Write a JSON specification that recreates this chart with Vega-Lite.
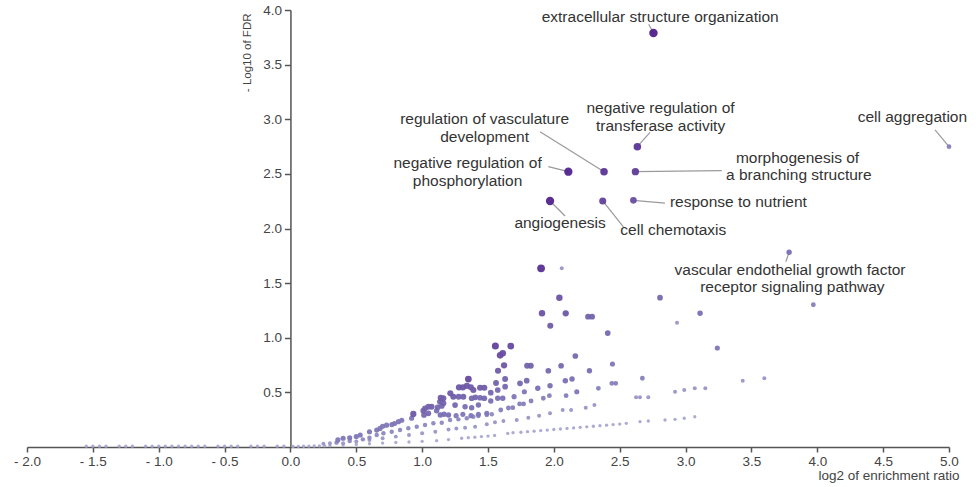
{
  "$schema": "https://vega.github.io/schema/vega-lite/v6.json",
  "width": 922,
  "height": 437,
  "autosize": "none",
  "padding": {"left": 27, "top": 10, "right": 27, "bottom": 40},
  "background": "white",
  "config": {"view": {"stroke": null}},
  "datasets": {
    "terms": [
      {"x": -1.55, "y": 0.008, "k": 2}, {"x": -1.5, "y": 0.008, "k": 2}, {"x": -1.45, "y": 0.008, "k": 2}, {"x": -1.4, "y": 0.008, "k": 2},
      {"x": -1.3, "y": 0.008, "k": 2}, {"x": -1.25, "y": 0.008, "k": 2}, {"x": -1.2, "y": 0.008, "k": 2}, {"x": -1.1, "y": 0.008, "k": 2},
      {"x": -1.05, "y": 0.008, "k": 2}, {"x": -1.0, "y": 0.008, "k": 2}, {"x": -0.95, "y": 0.008, "k": 2}, {"x": -0.9, "y": 0.008, "k": 2},
      {"x": -0.85, "y": 0.008, "k": 2}, {"x": -0.8, "y": 0.008, "k": 2}, {"x": -0.75, "y": 0.008, "k": 2}, {"x": -0.7, "y": 0.008, "k": 2},
      {"x": -0.65, "y": 0.008, "k": 2}, {"x": -0.55, "y": 0.008, "k": 2}, {"x": -0.5, "y": 0.008, "k": 2}, {"x": -0.45, "y": 0.008, "k": 2},
      {"x": -0.4, "y": 0.008, "k": 2}, {"x": -0.3, "y": 0.008, "k": 2}, {"x": -0.25, "y": 0.008, "k": 2}, {"x": -0.2, "y": 0.008, "k": 2},
      {"x": -0.1, "y": 0.008, "k": 2}, {"x": -0.05, "y": 0.008, "k": 2},
      {"x": 0.02, "y": 0.005, "k": 2}, {"x": 0.06, "y": 0.006, "k": 2}, {"x": 0.1, "y": 0.007, "k": 2}, {"x": 0.14, "y": 0.008, "k": 2},
      {"x": 0.18, "y": 0.009, "k": 2}, {"x": 0.22, "y": 0.01, "k": 2}, {"x": 0.26, "y": 0.011, "k": 2}, {"x": 0.25, "y": 0.03, "k": 3},
      {"x": 0.3, "y": 0.012, "k": 2}, {"x": 0.4, "y": 0.018, "k": 2}, {"x": 0.5, "y": 0.024, "k": 2}, {"x": 0.6, "y": 0.03, "k": 2},
      {"x": 0.7, "y": 0.036, "k": 2}, {"x": 0.8, "y": 0.042, "k": 2}, {"x": 0.9, "y": 0.046, "k": 2}, {"x": 1.0, "y": 0.052, "k": 2},
      {"x": 1.11, "y": 0.058, "k": 2}, {"x": 1.2, "y": 0.068, "k": 2}, {"x": 1.3, "y": 0.08, "k": 2}, {"x": 1.35, "y": 0.085, "k": 2},
      {"x": 1.4, "y": 0.09, "k": 2}, {"x": 1.45, "y": 0.095, "k": 2}, {"x": 1.5, "y": 0.1, "k": 2}, {"x": 1.55, "y": 0.106, "k": 2},
      {"x": 1.65, "y": 0.124, "k": 2}, {"x": 1.69, "y": 0.131, "k": 2}, {"x": 1.75, "y": 0.135, "k": 2}, {"x": 1.8, "y": 0.14, "k": 2},
      {"x": 1.85, "y": 0.145, "k": 2}, {"x": 1.9, "y": 0.15, "k": 2}, {"x": 1.95, "y": 0.155, "k": 2}, {"x": 2.0, "y": 0.16, "k": 2},
      {"x": 2.05, "y": 0.165, "k": 2}, {"x": 2.1, "y": 0.17, "k": 2}, {"x": 2.15, "y": 0.175, "k": 2}, {"x": 2.2, "y": 0.18, "k": 2},
      {"x": 2.25, "y": 0.185, "k": 2}, {"x": 2.3, "y": 0.19, "k": 2}, {"x": 2.35, "y": 0.195, "k": 2}, {"x": 2.4, "y": 0.2, "k": 2},
      {"x": 2.45, "y": 0.205, "k": 2}, {"x": 2.5, "y": 0.21, "k": 2}, {"x": 2.55, "y": 0.217, "k": 2}, {"x": 2.654, "y": 0.232, "k": 2},
      {"x": 2.717, "y": 0.238, "k": 2}, {"x": 2.844, "y": 0.247, "k": 2}, {"x": 2.92, "y": 0.253, "k": 2}, {"x": 2.99, "y": 0.263, "k": 2},
      {"x": 3.07, "y": 0.277, "k": 2},
      {"x": 0.3, "y": 0.035, "k": 3}, {"x": 0.4, "y": 0.035, "k": 3}, {"x": 0.5, "y": 0.05, "k": 3}, {"x": 0.6, "y": 0.065, "k": 3},
      {"x": 0.7, "y": 0.08, "k": 3}, {"x": 0.8, "y": 0.095, "k": 3}, {"x": 0.9, "y": 0.11, "k": 3}, {"x": 1.0, "y": 0.125, "k": 3},
      {"x": 1.1, "y": 0.14, "k": 3}, {"x": 1.2, "y": 0.16, "k": 3}, {"x": 1.26, "y": 0.17, "k": 3}, {"x": 1.326, "y": 0.177, "k": 3},
      {"x": 1.402, "y": 0.186, "k": 3}, {"x": 1.491, "y": 0.208, "k": 3}, {"x": 1.553, "y": 0.226, "k": 3}, {"x": 1.617, "y": 0.238, "k": 3},
      {"x": 1.718, "y": 0.247, "k": 3}, {"x": 1.806, "y": 0.268, "k": 3}, {"x": 1.888, "y": 0.287, "k": 3}, {"x": 1.971, "y": 0.308, "k": 3},
      {"x": 2.067, "y": 0.339, "k": 3}, {"x": 2.131, "y": 0.339, "k": 3}, {"x": 2.242, "y": 0.36, "k": 3}, {"x": 2.308, "y": 0.384, "k": 3},
      {"x": 2.624, "y": 0.455, "k": 3}, {"x": 2.654, "y": 0.455, "k": 3}, {"x": 2.717, "y": 0.455, "k": 3}, {"x": 2.92, "y": 0.506, "k": 3},
      {"x": 2.99, "y": 0.522, "k": 3}, {"x": 3.07, "y": 0.537, "k": 3}, {"x": 3.15, "y": 0.537, "k": 3}, {"x": 3.434, "y": 0.607, "k": 3},
      {"x": 3.598, "y": 0.629, "k": 3}, {"x": 2.06, "y": 1.636, "k": 3}, {"x": 2.935, "y": 1.138, "k": 3},
      {"x": 0.35, "y": 0.04, "k": 4}, {"x": 0.45, "y": 0.055, "k": 4}, {"x": 0.55, "y": 0.07, "k": 4}, {"x": 0.6, "y": 0.085, "k": 4},
      {"x": 0.655, "y": 0.11, "k": 4}, {"x": 0.706, "y": 0.125, "k": 4}, {"x": 0.769, "y": 0.14, "k": 4}, {"x": 0.832, "y": 0.156, "k": 4},
      {"x": 0.895, "y": 0.171, "k": 4}, {"x": 0.959, "y": 0.186, "k": 4}, {"x": 1.022, "y": 0.201, "k": 4}, {"x": 1.085, "y": 0.217, "k": 4},
      {"x": 1.149, "y": 0.222, "k": 4}, {"x": 1.212, "y": 0.247, "k": 4}, {"x": 1.275, "y": 0.253, "k": 4}, {"x": 1.339, "y": 0.263, "k": 4},
      {"x": 1.389, "y": 0.277, "k": 4}, {"x": 1.427, "y": 0.284, "k": 4}, {"x": 1.491, "y": 0.293, "k": 4}, {"x": 1.529, "y": 0.299, "k": 4},
      {"x": 1.597, "y": 0.339, "k": 5}, {"x": 1.655, "y": 0.357, "k": 5}, {"x": 1.688, "y": 0.36, "k": 5}, {"x": 1.74, "y": 0.394, "k": 5},
      {"x": 1.77, "y": 0.394, "k": 5}, {"x": 1.827, "y": 0.421, "k": 5}, {"x": 1.92, "y": 0.446, "k": 5}, {"x": 1.966, "y": 0.47, "k": 5},
      {"x": 2.093, "y": 0.47, "k": 5}, {"x": 2.338, "y": 0.537, "k": 5}, {"x": 2.44, "y": 0.583, "k": 5}, {"x": 2.47, "y": 0.583, "k": 5},
      {"x": 2.672, "y": 0.629, "k": 5}, {"x": 3.97, "y": 1.302, "k": 5}, {"x": 5.0, "y": 2.749, "k": 5},
      {"x": 0.36, "y": 0.065, "k": 6}, {"x": 0.4, "y": 0.08, "k": 6}, {"x": 0.45, "y": 0.085, "k": 6}, {"x": 0.5, "y": 0.095, "k": 6},
      {"x": 0.53, "y": 0.11, "k": 6}, {"x": 0.6, "y": 0.14, "k": 6}, {"x": 0.655, "y": 0.155, "k": 6}, {"x": 0.68, "y": 0.17, "k": 6},
      {"x": 0.7, "y": 0.19, "k": 6}, {"x": 0.73, "y": 0.2, "k": 6}, {"x": 0.77, "y": 0.205, "k": 6}, {"x": 0.79, "y": 0.215, "k": 6},
      {"x": 0.82, "y": 0.232, "k": 6}, {"x": 0.845, "y": 0.245, "k": 6}, {"x": 0.92, "y": 0.263, "k": 6},
      {"x": 1.258, "y": 0.287, "k": 6}, {"x": 1.309, "y": 0.299, "k": 6}, {"x": 1.371, "y": 0.287, "k": 6}, {"x": 1.427, "y": 0.299, "k": 6},
      {"x": 1.491, "y": 0.308, "k": 6}, {"x": 1.698, "y": 0.461, "k": 6}, {"x": 1.776, "y": 0.506, "k": 6}, {"x": 2.174, "y": 0.506, "k": 6},
      {"x": 2.445, "y": 0.76, "k": 6}, {"x": 3.241, "y": 0.906, "k": 6},
      {"x": 1.11, "y": 0.332, "k": 7}, {"x": 1.138, "y": 0.293, "k": 7}, {"x": 1.166, "y": 0.299, "k": 7}, {"x": 1.2, "y": 0.293, "k": 7},
      {"x": 1.326, "y": 0.369, "k": 7}, {"x": 1.376, "y": 0.36, "k": 7}, {"x": 1.427, "y": 0.384, "k": 7}, {"x": 1.521, "y": 0.421, "k": 7},
      {"x": 1.574, "y": 0.446, "k": 7}, {"x": 1.612, "y": 0.446, "k": 7}, {"x": 1.878, "y": 0.537, "k": 7}, {"x": 1.971, "y": 0.561, "k": 7},
      {"x": 2.087, "y": 0.607, "k": 7}, {"x": 2.138, "y": 0.622, "k": 7}, {"x": 2.27, "y": 0.698, "k": 7}, {"x": 3.11, "y": 1.224, "k": 7},
      {"x": 3.786, "y": 1.782, "k": 7},
      {"x": 1.014, "y": 0.293, "k": 8}, {"x": 1.047, "y": 0.308, "k": 8}, {"x": 1.118, "y": 0.363, "k": 8}, {"x": 1.149, "y": 0.375, "k": 8},
      {"x": 1.25, "y": 0.384, "k": 8}, {"x": 1.376, "y": 0.446, "k": 8}, {"x": 1.404, "y": 0.455, "k": 8}, {"x": 1.44, "y": 0.451, "k": 8},
      {"x": 1.472, "y": 0.446, "k": 8}, {"x": 1.521, "y": 0.497, "k": 8}, {"x": 1.574, "y": 0.522, "k": 8}, {"x": 1.63, "y": 0.552, "k": 8},
      {"x": 1.743, "y": 0.583, "k": 8}, {"x": 1.794, "y": 0.607, "k": 8}, {"x": 1.958, "y": 0.698, "k": 8}, {"x": 2.055, "y": 0.744, "k": 8},
      {"x": 2.163, "y": 0.833, "k": 8}, {"x": 2.409, "y": 1.043, "k": 8}, {"x": 2.806, "y": 1.367, "k": 8},
      {"x": 1.009, "y": 0.332, "k": 9}, {"x": 1.022, "y": 0.354, "k": 9}, {"x": 1.047, "y": 0.369, "k": 9}, {"x": 1.072, "y": 0.369, "k": 9},
      {"x": 1.136, "y": 0.415, "k": 9}, {"x": 1.161, "y": 0.4, "k": 9}, {"x": 1.277, "y": 0.46, "k": 9}, {"x": 1.313, "y": 0.46, "k": 9},
      {"x": 1.561, "y": 0.586, "k": 9}, {"x": 1.63, "y": 0.622, "k": 9}, {"x": 1.797, "y": 0.744, "k": 9}, {"x": 1.825, "y": 0.744, "k": 9},
      {"x": 2.26, "y": 1.193, "k": 9}, {"x": 2.29, "y": 1.193, "k": 9},
      {"x": 1.141, "y": 0.451, "k": 10}, {"x": 1.161, "y": 0.446, "k": 10}, {"x": 1.214, "y": 0.491, "k": 10}, {"x": 1.237, "y": 0.46, "k": 10},
      {"x": 1.37, "y": 0.546, "k": 10}, {"x": 1.389, "y": 0.522, "k": 10}, {"x": 1.44, "y": 0.543, "k": 10}, {"x": 1.472, "y": 0.543, "k": 10},
      {"x": 1.576, "y": 0.698, "k": 10}, {"x": 1.973, "y": 1.11, "k": 10},
      {"x": 0.933, "y": 0.302, "k": 11}, {"x": 1.28, "y": 0.546, "k": 11}, {"x": 1.31, "y": 0.546, "k": 11}, {"x": 1.34, "y": 0.56, "k": 11},
      {"x": 1.622, "y": 0.748, "k": 11}, {"x": 2.09, "y": 1.224, "k": 11},
      {"x": 2.042, "y": 1.367, "k": 12}, {"x": 1.91, "y": 1.224, "k": 12},
      {"x": 1.592, "y": 0.839, "k": 13}, {"x": 1.612, "y": 0.857, "k": 13},
      {"x": 1.351, "y": 0.622, "k": 14}, {"x": 1.673, "y": 0.924, "k": 14},
      {"x": 1.556, "y": 0.924, "k": 16}, {"x": 1.903, "y": 1.636, "k": 22},
      {"x": 2.604, "y": 2.258, "k": 13}, {"x": 2.371, "y": 2.252, "k": 16}, {"x": 2.619, "y": 2.52, "k": 18},
      {"x": 2.381, "y": 2.52, "k": 20}, {"x": 2.634, "y": 2.749, "k": 20}, {"x": 1.971, "y": 2.252, "k": 28},
      {"x": 2.11, "y": 2.52, "k": 28}, {"x": 2.756, "y": 3.79, "k": 30}
    ],
    "leaders": [
      {"x": 2.756, "y": 3.79, "x2": 2.72, "y2": 3.87},
      {"x": 2.634, "y": 2.749, "x2": 2.73, "y2": 2.88},
      {"x": 2.381, "y": 2.52, "x2": 1.895, "y2": 2.886},
      {"x": 2.11, "y": 2.52, "x2": 1.958, "y2": 2.566},
      {"x": 2.619, "y": 2.52, "x2": 3.275, "y2": 2.529},
      {"x": 2.604, "y": 2.258, "x2": 2.844, "y2": 2.233},
      {"x": 1.971, "y": 2.252, "x2": 2.085, "y2": 2.114},
      {"x": 2.371, "y": 2.252, "x2": 2.528, "y2": 2.016},
      {"x": 5.0, "y": 2.749, "x2": 4.894, "y2": 2.902},
      {"x": 3.786, "y": 1.782, "x2": 3.761, "y2": 1.696}
    ],
    "labels": [
      {"text": "extracellular structure organization", "x": 2.807, "y": 3.939},
      {"text": "negative regulation of", "x": 2.81, "y": 3.1},
      {"text": "transferase activity", "x": 2.81, "y": 2.94},
      {"text": "regulation of vasculature", "x": 1.474, "y": 3.0},
      {"text": "development", "x": 1.474, "y": 2.837},
      {"text": "negative regulation of", "x": 1.345, "y": 2.6},
      {"text": "phosphorylation", "x": 1.345, "y": 2.435},
      {"text": "morphogenesis of", "x": 3.85, "y": 2.643},
      {"text": "a branching structure", "x": 3.86, "y": 2.49},
      {"text": "response to nutrient", "x": 3.401, "y": 2.24},
      {"text": "angiogenesis", "x": 2.047, "y": 2.053},
      {"text": "cell chemotaxis", "x": 2.907, "y": 1.986},
      {"text": "cell aggregation", "x": 4.722, "y": 3.023},
      {"text": "vascular endothelial growth factor", "x": 3.793, "y": 1.62},
      {"text": "receptor signaling pathway", "x": 3.811, "y": 1.462}
    ]
  },
  "encoding": {
    "x": {
      "field": "x",
      "type": "quantitative",
      "scale": {"domain": [-2, 5], "nice": false, "zero": false},
      "axis": {
        "values": [-2, -1.5, -1, -0.5, 0, 0.5, 1, 1.5, 2, 2.5, 3, 3.5, 4, 4.5, 5],
        "labelExpr": "datum.value < 0 ? '- ' + format(abs(datum.value), '.1f') : format(datum.value, '.1f')",
        "title": "log2 of enrichment ratio",
        "grid": false,
        "domainColor": "#555555",
        "domainWidth": 1.5,
        "tickColor": "#555555",
        "tickWidth": 1.5,
        "tickSize": 5,
        "labelPadding": 2,
        "labelFont": "Liberation Sans",
        "labelFontSize": 13.5,
        "labelColor": "#444444",
        "labelFlush": false,
        "titleFont": "Liberation Sans",
        "titleFontSize": 13.5,
        "titleFontWeight": "normal",
        "titleColor": "#444444",
        "titleAlign": "right",
        "titleBaseline": "top",
        "titleX": 932,
        "titleY": 21
      }
    },
    "y": {
      "field": "y",
      "type": "quantitative",
      "scale": {"domain": [0, 4], "nice": false},
      "axis": {
        "offset": -263.43,
        "values": [0.5, 1, 1.5, 2, 2.5, 3, 3.5, 4],
        "format": ".1f",
        "title": "- Log10 of FDR",
        "grid": false,
        "domainColor": "#555555",
        "domainWidth": 1.5,
        "tickColor": "#555555",
        "tickWidth": 1.5,
        "tickSize": 6,
        "labelPadding": 3,
        "labelFont": "Liberation Sans",
        "labelFontSize": 13.5,
        "labelColor": "#444444",
        "labelFlush": false,
        "titleFont": "Liberation Sans",
        "titleFontSize": 11.5,
        "titleFontWeight": "normal",
        "titleColor": "#444444",
        "titleAngle": -90,
        "titleAlign": "right",
        "titleBaseline": "middle",
        "titleX": -43,
        "titleY": 3
      }
    }
  },
  "layer": [
    {
      "data": {"name": "leaders"},
      "mark": {"type": "rule", "color": "#9a9a9a", "strokeWidth": 1.2},
      "encoding": {
        "x2": {"field": "x2"},
        "y2": {"field": "y2"}
      }
    },
    {
      "data": {"name": "terms"},
      "mark": {"type": "circle", "opacity": 0.95},
      "encoding": {
        "color": {
          "field": "k",
          "type": "quantitative",
          "scale": {"type": "log", "domain": [1, 30], "scheme": {"name": "purples", "extent": [0.2, 1]}},
          "legend": null
        },
        "size": {
          "field": "k",
          "type": "quantitative",
          "scale": {"type": "sqrt", "domain": [2, 30], "range": [11, 72]},
          "legend": null
        },
        "order": {"field": "k", "type": "quantitative"}
      }
    },
    {
      "data": {"name": "labels"},
      "mark": {
        "type": "text",
        "font": "Liberation Sans",
        "fontSize": 15.5,
        "color": "#333333",
        "align": "center",
        "baseline": "middle"
      },
      "encoding": {
        "text": {"field": "text", "type": "nominal"}
      }
    }
  ]
}
